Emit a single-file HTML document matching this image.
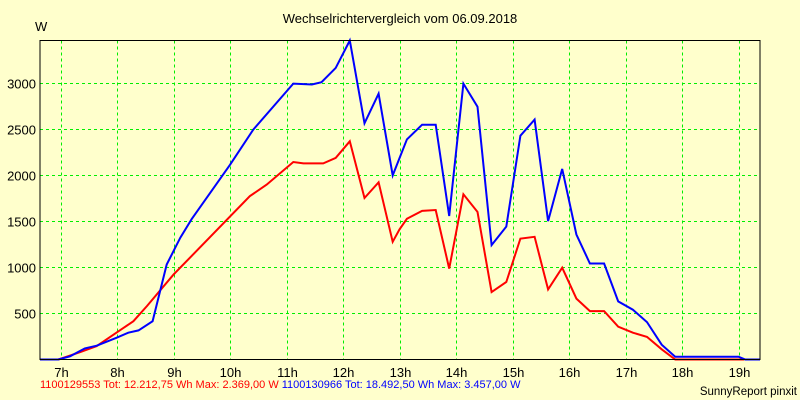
<!DOCTYPE html>
<html><head><meta charset="utf-8"><style>
html,body{margin:0;padding:0;background:#ffffcc;}
svg{display:block;font-family:"Liberation Sans",sans-serif;}
</style></head><body>
<svg id="chart" width="800" height="400" viewBox="0 0 800 400">
<rect x="0" y="0" width="800" height="400" fill="#ffffcc"/>
<text x="400" y="23" text-anchor="middle" font-size="13" fill="#000">Wechselrichtervergleich vom 06.09.2018</text>
<text x="35" y="31" font-size="13" fill="#000">W</text>
<g id="grid" shape-rendering="crispEdges"></g>
<g id="yticks"></g>
<g id="xticks"></g>
<g id="series"></g>
<rect x="40" y="40.5" width="720" height="319" fill="none" stroke="#000" stroke-width="1" shape-rendering="crispEdges"/>
<text x="40" y="388" font-size="11"><tspan fill="#ff0000">1100129553 Tot: 12.212,75 Wh Max: 2.369,00 W</tspan><tspan fill="#0000ff"> 1100130966 Tot: 18.492,50 Wh Max: 3.457,00 W</tspan></text>
<text x="797" y="395" text-anchor="end" font-size="11.5" fill="#000">SunnyReport pinxit</text>
</svg>
<script>
const yTicks=[500,1000,1500,2000,2500,3000];
const xTickHours=[7,8,9,10,11,12,13,14,15,16,17,18,19];
const blueTimes=[6.637,6.96,7.17,7.43,7.64,7.99,8.2,8.38,8.63,8.88,9.12,9.32,10.0,10.41,11.12,11.45,11.62,11.87,12.12,12.38,12.63,12.88,13.13,13.4,13.64,13.88,14.13,14.38,14.63,14.89,15.14,15.39,15.63,15.88,16.13,16.37,16.62,16.87,17.13,17.38,17.64,17.88,19.0,19.12,19.38];
const blueValues=[0,0,35,120,150,235,290,315,415,1030,1320,1520,2110,2490,2990,2980,3005,3160,3457,2560,2880,1995,2385,2545,2545,1555,2990,2740,1240,1440,2425,2600,1500,2065,1355,1040,1040,630,540,405,160,30,30,0,0];
const redTimes=[6.637,6.96,7.11,7.35,7.64,7.99,8.12,8.29,8.53,9.0,10.35,10.65,11.12,11.3,11.65,11.87,12.12,12.38,12.63,12.88,13.0,13.13,13.4,13.64,13.88,14.13,14.38,14.63,14.89,15.14,15.39,15.63,15.88,16.13,16.37,16.62,16.87,17.13,17.38,17.64,17.88,19.1];
const redValues=[0,0,30,80,145,290,345,415,580,920,1770,1895,2140,2125,2125,2185,2365,1750,1920,1275,1410,1525,1610,1620,985,1790,1600,730,840,1310,1330,760,995,660,525,525,355,290,245,110,0,0];
const X0=40,X1=760,Y0=359.5,Y1=40.5,H0=6.637,H1=19.38,VMAX=3457;
const xs=h=>X0+(h-H0)/(H1-H0)*(X1-X0);
const ys=v=>Y0-v/VMAX*(Y0-Y1);
const NS="http://www.w3.org/2000/svg";
function mk(tag,attrs,parent){const e=document.createElementNS(NS,tag);for(const k in attrs)e.setAttribute(k,attrs[k]);parent.appendChild(e);return e;}
const grid=document.getElementById('grid'),yg=document.getElementById('yticks'),xg=document.getElementById('xticks'),sg=document.getElementById('series');
yTicks.forEach(v=>{
  const y=Math.round(ys(v))+0.5;
  const l=mk('line',{x1:X0,x2:X1,y1:y,y2:y,stroke:'#00ee00','stroke-dasharray':'3,3','stroke-width':1},grid);
  
  
  const t=mk('text',{x:36,y:y+5,'text-anchor':'end','font-size':13,fill:'#000'},yg);
  t.textContent=v;
  
  
});
xTickHours.forEach(h=>{
  const x=Math.round(xs(h))+0.5;
  const l=mk('line',{x1:x,x2:x,y1:Y1,y2:Y0,stroke:'#00ee00','stroke-dasharray':'3,3','stroke-width':1},grid);
  
  
  const t=mk('text',{x:x,y:377,'text-anchor':'middle','font-size':13,fill:'#000'},xg);
  t.textContent=h+'h';
  
  
});
function line(times,vals,color,name){
  const pts=times.map((t,i)=>xs(t).toFixed(1)+','+ys(vals[i]).toFixed(1)).join(' ');
  const p=mk('polyline',{points:pts,fill:'none',stroke:color,'stroke-width':2,'stroke-linejoin':'miter'},sg);
  
  
}
line(redTimes,redValues,'#ff0000','red-series-line');
line(blueTimes,blueValues,'#0000ff','blue-series-line');
</script>
</body></html>
